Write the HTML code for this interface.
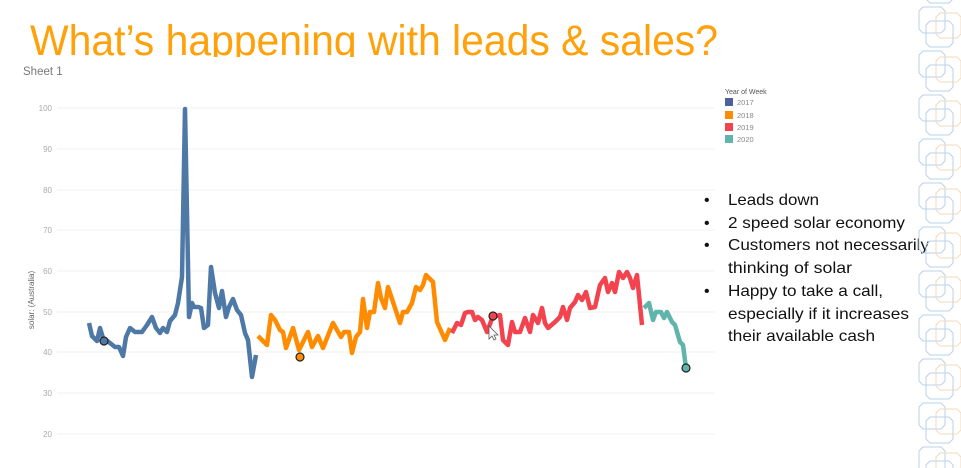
<!DOCTYPE html>
<html><head><meta charset="utf-8"><style>
html,body{margin:0;padding:0;background:#fff;width:961px;height:468px;overflow:hidden}
svg{display:block}
text{font-family:"Liberation Sans",sans-serif}
</style></head><body>
<svg width="961" height="468" viewBox="0 0 961 468" xmlns="http://www.w3.org/2000/svg">
<defs>
<clipPath id="tc"><rect x="0" y="0" width="961" height="57"/></clipPath>
<g id="deco" fill="none" stroke-width="1">
<path d="M923 0h18l4 4v18l-4 4h-18l-4-4v-18z" stroke="#b9d3e8"/>
<path d="M940 6h17l4 4v17l-4 4h-17l-4-4v-17z" stroke="#f5d9bb"/>
<path d="M930 14h19l4 4v18l-4 4h-19l-4-4v-18z" stroke="#b9d3e8"/>
</g>
</defs>
<g clip-path="url(#tc)">
<text x="30" y="55" font-size="43" fill="#ffa10a" textLength="688" lengthAdjust="spacingAndGlyphs">What’s happening with leads &amp; sales?</text>
</g>
<text x="23" y="75" font-size="11.5" fill="#777">Sheet 1</text>
<g stroke="#f0f0f0" stroke-width="1">
<line x1="57" y1="108" x2="715" y2="108"/><line x1="57" y1="149" x2="715" y2="149"/>
<line x1="57" y1="190" x2="715" y2="190"/><line x1="57" y1="230" x2="715" y2="230"/>
<line x1="57" y1="271" x2="715" y2="271"/><line x1="57" y1="312" x2="715" y2="312"/>
<line x1="57" y1="352" x2="715" y2="352"/><line x1="57" y1="393" x2="715" y2="393"/>
<line x1="57" y1="434" x2="715" y2="434"/>
</g>
<g font-size="8" fill="#aaa" text-anchor="end">
<text x="52" y="111">100</text><text x="52" y="152">90</text><text x="52" y="193">80</text>
<text x="52" y="233">70</text><text x="52" y="274">60</text><text x="52" y="315">50</text>
<text x="52" y="355">40</text><text x="52" y="396">30</text><text x="52" y="437">20</text>
</g>
<text transform="translate(34,300) rotate(-90)" font-size="8" fill="#666" text-anchor="middle">solar: (Australia)</text>
<g fill="none" stroke-width="4.5" stroke-linejoin="round" stroke-linecap="butt">
<polyline stroke="#4e79a7" points="89,323 92,336 97,341 100,328 103,338 110,343 115,347 119,347 123,356 126,337 130,328 135,332 142,332 147,325 152,317 156,328 160,333 163,328 167,332 170,321 175,315 178,303 182,277 185,109 189,317 192,303 194,307 198,307 201,308 204,328 208,325 211,267 215,293 219,308 222,291 226,317 229,307 233,299 237,310 241,315 245,333 248,340 252,377 256,355"/>
<polyline stroke="#ff8c00" points="258,336 267,345 271,315 275,320 280,330 283,332 286,348 293,328 299,350 308,332 312,347 318,336 323,348 333,323 341,337 344,332 349,332 352,353 356,337 360,332 363,299 367,328 370,312 374,312 378,283 381,298 385,308 388,287 393,302 400,323 403,312 407,312 412,303 416,287 420,290 423,285 426,275 433,282 437,322 445,340 450,328"/>
<polyline stroke="#f2434f" points="452,333 457,323 461,325 465,313 468,312 472,312 475,320 478,317 482,320 487,332 493,316 496,316 500,315 503,340 508,345 512,322 515,332 520,332 525,318 530,332 533,315 538,323 542,308 545,323 548,328 555,322 560,317 563,307 567,320 570,308 575,302 578,295 582,300 586,292 590,308 595,307 600,285 605,278 608,292 612,283 615,292 619,272 623,278 627,272 630,278 633,288 637,275 642,325"/>
<polyline stroke="#5fb4ac" points="644,308 649,303 653,320 656,312 661,312 664,318 667,312 672,322 675,325 680,342 683,345 686,368"/>
</g>
<g stroke="#222" stroke-width="1.2">
<circle cx="104" cy="341" r="4" fill="#4e79a7"/>
<circle cx="300" cy="357" r="4" fill="#ff8c00"/>
<circle cx="493" cy="316" r="4" fill="#f2434f"/>
<circle cx="686" cy="368" r="4" fill="#5fb4ac"/>
</g>
<path d="M489 326v13l3-3 2 4 2-1-2-4h4z" fill="#fff" stroke="#555" stroke-width="0.8"/>
<text x="725" y="94" font-size="7" fill="#555">Year of Week</text>
<rect x="725" y="98" width="8" height="8" fill="#4e5fa0"/><text x="737" y="105" font-size="7.5" fill="#888">2017</text>
<rect x="725" y="111" width="8" height="8" fill="#ff8c00"/><text x="737" y="118" font-size="7.5" fill="#888">2018</text>
<rect x="725" y="123" width="8" height="8" fill="#f2434f"/><text x="737" y="130" font-size="7.5" fill="#888">2019</text>
<rect x="725" y="135" width="8" height="8" fill="#5fb4ac"/><text x="737" y="142" font-size="7.5" fill="#888">2020</text>
<g font-size="16" fill="#111">
<text x="704" y="205">•</text><text x="704" y="228">•</text><text x="704" y="250">•</text><text x="704" y="296">•</text>
<text x="728" y="205" textLength="91" lengthAdjust="spacingAndGlyphs">Leads down</text>
<text x="728" y="228" textLength="177" lengthAdjust="spacingAndGlyphs">2 speed solar economy</text>
<text x="728" y="250" textLength="201" lengthAdjust="spacingAndGlyphs">Customers not necessarily</text>
<text x="728" y="273" textLength="124" lengthAdjust="spacingAndGlyphs">thinking of solar</text>
<text x="728" y="296" textLength="155" lengthAdjust="spacingAndGlyphs">Happy to take a call,</text>
<text x="728" y="319" textLength="181" lengthAdjust="spacingAndGlyphs">especially if it increases</text>
<text x="728" y="341" textLength="147" lengthAdjust="spacingAndGlyphs">their available cash</text>
</g>
<use href="#deco" y="-37"/><use href="#deco" y="7"/><use href="#deco" y="51"/><use href="#deco" y="95"/>
<use href="#deco" y="139"/><use href="#deco" y="183"/><use href="#deco" y="227"/><use href="#deco" y="271"/>
<use href="#deco" y="315"/><use href="#deco" y="359"/><use href="#deco" y="403"/><use href="#deco" y="447"/>
</svg>
</body></html>
